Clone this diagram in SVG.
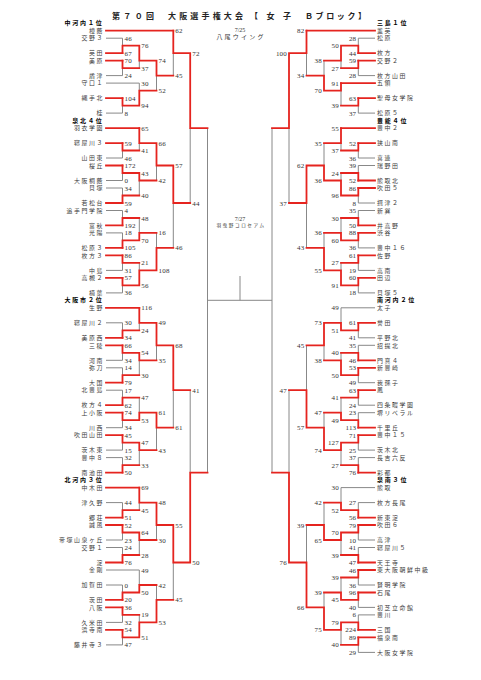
<svg xmlns="http://www.w3.org/2000/svg" width="481" height="680" viewBox="0 0 481 680">
<style>
.bg{fill:#fff}
.t{font-family:"Noto Sans CJK JP",sans-serif;font-weight:bold;font-size:8px;fill:#222}
.n{font-family:"Noto Sans CJK JP",sans-serif;font-size:5.9px;fill:#3a3a3a;letter-spacing:1.6px}
.nl{text-anchor:end}
.h{font-family:"Noto Sans CJK JP",sans-serif;font-weight:bold;font-size:6px;fill:#000;letter-spacing:1.8px}
.s{font-family:"Liberation Serif",serif;font-size:7px;fill:#333;letter-spacing:0.2px}
.sr{text-anchor:end}
.d{font-family:"Liberation Serif","Noto Sans CJK JP",serif;font-size:6px;fill:#333;text-anchor:middle}
.g{stroke:#888;stroke-width:1;fill:none}
.r{stroke:#e5241f;stroke-width:1.8;fill:none;stroke-linecap:square}
</style>
<rect class="bg" x="0" y="0" width="481" height="680"/>
<g id="title">
<text class="t" x="112" y="18.5" textLength="42" lengthAdjust="spacing">第７０回</text>
<text class="t" x="168" y="18.5" textLength="75" lengthAdjust="spacing">大阪選手権大会</text>
<text class="t" x="250" y="18.5" textLength="41" lengthAdjust="spacing">【女子</text>
<text class="t" x="305" y="18.5" textLength="61" lengthAdjust="spacing">Ｂブロック】</text>
</g>
<g id="venues">
<text class="d" x="240" y="31.5">7/25</text>
<text class="d" x="241" y="39" style="letter-spacing:2.2px">八尾ウイング</text>
<text class="d" x="240" y="220.5">7/27</text>
<text class="d" x="241" y="227" style="font-size:4.6px;letter-spacing:1.6px">羽曳野コロセアム</text>
</g>
<g id="connectors">
<path class="g" d="M106 38.2H122.5M106 75.6H122.5M106 83.1H139.3M106 113.1H122.5M106 158H122.5M106 180.5H122.5M106 188H122.5M106 210.5H122.5M106 232.9H122.5M106 270.4H122.5M106 292.9H122.5M106 322.8H122.5M106 360.3H122.5M106 367.8H122.5M106 390.2H122.5M106 427.7H122.5M106 450.1H122.5M106 457.6H122.5M106 502.6H122.5M106 540H122.5M106 547.5H122.5M106 570H139.3M106 585H122.5M106 622.4H122.5M106 644.9H122.5"/>
<path class="g" d="M122.5 38.2V45.7M122.5 68.2V75.6M139.3 60.7V68.2M122.5 105.6V113.1M139.3 83.1V90.6M156.5 75.6V90.6M173.3 53.2V75.6M122.5 150.5V158M139.3 143.1V150.5M122.5 173V180.5M122.5 188V195.5M139.3 180.5V195.5M156.5 165.5V180.5M122.5 210.5V218M122.5 232.9V240.4M139.3 218V232.9M122.5 262.9V270.4M122.5 285.4V292.9M139.3 262.9V270.4M156.5 232.9V247.9M173.3 203V247.9M190.2 128.1V203M122.5 322.8V330.3M139.3 322.8V330.3M122.5 352.8V360.3M122.5 367.8V375.2M139.3 360.3V375.2M156.5 345.3V360.3M122.5 390.2V397.7M122.5 420.2V427.7M139.3 397.7V412.7M122.5 442.7V450.1M122.5 457.6V465.1M139.3 450.1V465.1M156.5 427.7V450.1M173.3 390.2V427.7M122.5 502.6V510.1M139.3 502.6V510.1M122.5 532.5V540M122.5 547.5V555M139.3 540V555M156.5 525V540M122.5 585V592.5M139.3 570V585M122.5 614.9V622.4M122.5 637.4V644.9M139.3 614.9V622.4M156.5 585V599.9M173.3 562.5V599.9M190.2 390.2V472.6M207.5 128.1V472.6M207.5 300.3H272M240 276V300.3"/>
<path class="g" d="M375 38.2H358.3M375 75.6H358.3M375 113.1H358.3M375 158H358.3M375 165.5H358.3M375 203H358.3M375 210.5H358.3M375 247.9H358.3M375 270.4H358.3M375 292.9H358.3M375 307.8H341M375 337.8H358.3M375 345.3H358.3M375 382.7H358.3M375 405.2H358.3M375 412.7H358.3M375 450.1H358.3M375 457.6H358.3M375 487.6H341M375 502.6H358.3M375 540H358.3M375 547.5H358.3M375 585H358.3M375 607.4H358.3M375 614.9H358.3M375 652.4H358.3"/>
<path class="g" d="M358.3 38.2V45.7M358.3 68.2V75.6M341 60.7V68.2M358.3 105.6V113.1M341 90.6V105.6M324 60.7V75.6M306.5 53.2V75.6M358.3 150.5V158M341 143.1V150.5M358.3 165.5V173M358.3 195.5V203M341 173V180.5M324 143.1V165.5M358.3 210.5V218M358.3 240.4V247.9M341 218V232.9M358.3 262.9V270.4M358.3 285.4V292.9M341 262.9V270.4M324 232.9V247.9M306.5 203V247.9M289 128.1V203M358.3 330.3V337.8M341 307.8V322.8M358.3 345.3V352.8M358.3 375.2V382.7M341 352.8V360.3M324 345.3V360.3M358.3 397.7V405.2M358.3 412.7V420.2M341 397.7V412.7M358.3 442.7V450.1M358.3 457.6V465.1M341 450.1V465.1M324 412.7V427.7M306.5 345.3V390.2M358.3 502.6V510.1M341 487.6V502.6M358.3 532.5V540M358.3 547.5V555M341 540V555M324 502.6V525M358.3 577.5V585M358.3 599.9V607.4M341 577.5V592.5M358.3 614.9V622.4M358.3 644.9V652.4M341 629.9V644.9M324 592.5V607.4M306.5 525V562.5M289 390.2V472.6M272 128.1V472.6"/>
<path class="r" d="M106 30.7H173.3M106 53.2H122.5M106 60.7H122.5M106 98.1H122.5M106 128.1H139.3M106 143.1H122.5M106 165.5H122.5M106 203H122.5M106 225.4H122.5M106 247.9H122.5M106 255.4H122.5M106 277.9H122.5M106 307.8H139.3M106 337.8H122.5M106 345.3H122.5M106 382.7H122.5M106 405.2H122.5M106 412.7H122.5M106 435.2H122.5M106 472.6H122.5M106 487.6H139.3M106 517.6H122.5M106 525H122.5M106 562.5H122.5M106 599.9H122.5M106 607.4H122.5M106 629.9H122.5"/>
<path class="r" d="M122.5 53.2V45.7H139.3M122.5 60.7V68.2H139.3M139.3 45.7V60.7H156.5M122.5 98.1V105.6H139.3M139.3 105.6V90.6H156.5M156.5 60.7V75.6H173.3M173.3 30.7V53.2H190.2M122.5 143.1V150.5H139.3M139.3 128.1V143.1H156.5M122.5 165.5V173H139.3M122.5 203V195.5H139.3M139.3 173V180.5H156.5M156.5 143.1V165.5H173.3M122.5 225.4V218H139.3M122.5 247.9V240.4H139.3M139.3 240.4V232.9H156.5M122.5 255.4V262.9H139.3M122.5 277.9V285.4H139.3M139.3 285.4V270.4H156.5M156.5 270.4V247.9H173.3M173.3 165.5V203H190.2M190.2 53.2V128.1H207.5M122.5 337.8V330.3H139.3M139.3 307.8V322.8H156.5M122.5 345.3V352.8H139.3M122.5 382.7V375.2H139.3M139.3 352.8V360.3H156.5M156.5 322.8V345.3H173.3M122.5 405.2V397.7H139.3M122.5 412.7V420.2H139.3M139.3 420.2V412.7H156.5M122.5 435.2V442.7H139.3M122.5 472.6V465.1H139.3M139.3 442.7V450.1H156.5M156.5 412.7V427.7H173.3M173.3 345.3V390.2H190.2M122.5 517.6V510.1H139.3M139.3 487.6V502.6H156.5M122.5 525V532.5H139.3M122.5 562.5V555H139.3M139.3 532.5V540H156.5M156.5 502.6V525H173.3M122.5 599.9V592.5H139.3M139.3 592.5V585H156.5M122.5 607.4V614.9H139.3M122.5 629.9V637.4H139.3M139.3 637.4V622.4H156.5M156.5 622.4V599.9H173.3M173.3 525V562.5H190.2M190.2 562.5V472.6H207.5"/>
<path class="r" d="M375 30.7H306.5M375 53.2H358.3M375 60.7H358.3M375 83.1H341M375 98.1H358.3M375 128.1H341M375 143.1H358.3M375 180.5H358.3M375 188H358.3M375 225.4H358.3M375 232.9H358.3M375 255.4H358.3M375 277.9H358.3M375 322.8H358.3M375 360.3H358.3M375 367.8H358.3M375 390.2H358.3M375 427.7H358.3M375 435.2H358.3M375 472.6H358.3M375 517.6H358.3M375 525H358.3M375 562.5H358.3M375 570H358.3M375 592.5H358.3M375 629.9H358.3M375 637.4H358.3"/>
<path class="r" d="M358.3 53.2V45.7H341M358.3 60.7V68.2H341M341 45.7V60.7H324M358.3 98.1V105.6H341M341 83.1V90.6H324M324 90.6V75.6H306.5M306.5 30.7V53.2H289M358.3 143.1V150.5H341M341 128.1V143.1H324M358.3 180.5V173H341M358.3 188V195.5H341M341 195.5V180.5H324M324 180.5V165.5H306.5M358.3 225.4V218H341M358.3 232.9V240.4H341M341 240.4V232.9H324M358.3 255.4V262.9H341M358.3 277.9V285.4H341M341 285.4V270.4H324M324 270.4V247.9H306.5M306.5 165.5V203H289M289 53.2V128.1H272M358.3 322.8V330.3H341M341 330.3V322.8H324M358.3 360.3V352.8H341M358.3 367.8V375.2H341M341 375.2V360.3H324M324 322.8V345.3H306.5M358.3 390.2V397.7H341M358.3 427.7V420.2H341M341 420.2V412.7H324M358.3 435.2V442.7H341M358.3 472.6V465.1H341M341 442.7V450.1H324M324 450.1V427.7H306.5M306.5 427.7V390.2H289M358.3 517.6V510.1H341M341 510.1V502.6H324M358.3 525V532.5H341M358.3 562.5V555H341M341 532.5V540H324M324 540V525H306.5M358.3 570V577.5H341M358.3 592.5V599.9H341M341 599.9V592.5H324M358.3 629.9V622.4H341M358.3 637.4V644.9H341M341 622.4V629.9H324M324 629.9V607.4H306.5M306.5 607.4V562.5H289M289 562.5V472.6H272"/>
</g>
<g id="scores-left" class="s">
<text x="124.5" y="40.7">46</text><text x="124.5" y="55.7">67</text><text x="124.5" y="63.2">70</text><text x="124.5" y="78.1">24</text><text x="124.5" y="100.6">104</text><text x="124.5" y="115.6">8</text>
<text x="124.5" y="145.6">59</text><text x="124.5" y="160.5">46</text><text x="124.5" y="168">172</text><text x="124.5" y="183">0</text><text x="124.5" y="190.5">34</text><text x="124.5" y="205.5">59</text><text x="124.5" y="213">4</text><text x="124.5" y="227.9">192</text><text x="124.5" y="235.4">18</text><text x="124.5" y="250.4">105</text><text x="124.5" y="257.9">86</text><text x="124.5" y="272.9">31</text><text x="124.5" y="280.4">57</text><text x="124.5" y="295.4">36</text>
<text x="124.5" y="325.3">30</text><text x="124.5" y="340.3">34</text><text x="124.5" y="347.8">66</text><text x="124.5" y="362.8">34</text><text x="124.5" y="370.3">14</text><text x="124.5" y="385.2">79</text><text x="124.5" y="392.7">17</text><text x="124.5" y="407.7">62</text><text x="124.5" y="415.2">74</text><text x="124.5" y="430.2">34</text><text x="124.5" y="437.7">45</text><text x="124.5" y="452.6">15</text><text x="124.5" y="460.1">32</text><text x="124.5" y="475.1">50</text>
<text x="124.5" y="505.1">44</text><text x="124.5" y="520.1">51</text><text x="124.5" y="527.5">52</text><text x="124.5" y="542.5">23</text><text x="124.5" y="550">24</text><text x="124.5" y="565">76</text><text x="124.5" y="587.5">0</text><text x="124.5" y="602.4">20</text><text x="124.5" y="609.9">36</text><text x="124.5" y="624.9">32</text><text x="124.5" y="632.4">54</text><text x="124.5" y="647.4">47</text>
<text x="141.3" y="48.2">76</text><text x="141.3" y="70.7">37</text><text x="141.3" y="85.6">30</text><text x="141.3" y="108.1">94</text>
<text x="141.3" y="130.6">65</text><text x="141.3" y="153">41</text><text x="141.3" y="175.5">43</text><text x="141.3" y="198">40</text><text x="141.3" y="220.5">48</text><text x="141.3" y="242.9">70</text><text x="141.3" y="265.4">21</text><text x="141.3" y="287.9">56</text>
<text x="141.3" y="310.3">116</text><text x="141.3" y="332.8">24</text><text x="141.3" y="355.3">54</text><text x="141.3" y="377.7">30</text><text x="141.3" y="400.2">47</text><text x="141.3" y="422.7">53</text><text x="141.3" y="445.2">47</text><text x="141.3" y="467.6">33</text>
<text x="141.3" y="490.1">69</text><text x="141.3" y="512.6">45</text><text x="141.3" y="535">64</text><text x="141.3" y="557.5">28</text><text x="141.3" y="572.5">49</text><text x="141.3" y="595">50</text><text x="141.3" y="617.4">19</text><text x="141.3" y="639.9">51</text>
<text x="158.5" y="63.2">74</text><text x="158.5" y="93.1">52</text><text x="158.5" y="145.6">66</text><text x="158.5" y="183">42</text><text x="158.5" y="235.4">16</text><text x="158.5" y="272.9">108</text><text x="158.5" y="325.3">49</text><text x="158.5" y="362.8">35</text><text x="158.5" y="415.2">61</text><text x="158.5" y="452.6">43</text><text x="158.5" y="505.1">48</text><text x="158.5" y="542.5">30</text><text x="158.5" y="587.5">42</text><text x="158.5" y="624.9">53</text>
<text x="175.3" y="33.2">62</text><text x="175.3" y="78.1">45</text><text x="175.3" y="168">57</text><text x="175.3" y="250.4">46</text><text x="175.3" y="347.8">68</text><text x="175.3" y="430.2">61</text><text x="175.3" y="527.5">55</text><text x="175.3" y="602.4">45</text>
<text x="192.2" y="55.7">72</text><text x="192.2" y="205.5">44</text><text x="192.2" y="392.7">41</text><text x="192.2" y="565">50</text>
</g>
<g id="scores-right" class="s sr">
<text x="356.3" y="40.7">28</text><text x="356.3" y="55.7">44</text><text x="356.3" y="63.2">59</text><text x="356.3" y="78.1">28</text><text x="356.3" y="100.6">63</text><text x="356.3" y="115.6">37</text>
<text x="356.3" y="145.6">52</text><text x="356.3" y="160.5">36</text><text x="356.3" y="168">39</text><text x="356.3" y="183">52</text><text x="356.3" y="190.5">86</text><text x="356.3" y="205.5">8</text><text x="356.3" y="213">35</text><text x="356.3" y="227.9">50</text><text x="356.3" y="235.4">88</text><text x="356.3" y="250.4">36</text><text x="356.3" y="257.9">61</text><text x="356.3" y="272.9">19</text><text x="356.3" y="280.4">60</text><text x="356.3" y="295.4">18</text>
<text x="356.3" y="325.3">61</text><text x="356.3" y="340.3">41</text><text x="356.3" y="347.8">35</text><text x="356.3" y="362.8">46</text><text x="356.3" y="370.3">53</text><text x="356.3" y="385.2">49</text><text x="356.3" y="392.7">63</text><text x="356.3" y="407.7">24</text><text x="356.3" y="415.2">23</text><text x="356.3" y="430.2">113</text><text x="356.3" y="437.7">71</text><text x="356.3" y="452.6">25</text><text x="356.3" y="460.1">37</text><text x="356.3" y="475.1">76</text>
<text x="356.3" y="505.1">27</text><text x="356.3" y="520.1">56</text><text x="356.3" y="527.5">79</text><text x="356.3" y="542.5">10</text><text x="356.3" y="550">41</text><text x="356.3" y="565">47</text><text x="356.3" y="572.5">46</text><text x="356.3" y="587.5">36</text><text x="356.3" y="595">96</text><text x="356.3" y="609.9">40</text><text x="356.3" y="617.4">6</text><text x="356.3" y="632.4">224</text><text x="356.3" y="639.9">89</text><text x="356.3" y="654.9">29</text>
<text x="339" y="48.2">50</text><text x="339" y="70.7">27</text><text x="339" y="85.6">91</text><text x="339" y="108.1">39</text>
<text x="339" y="130.6">55</text><text x="339" y="153">37</text><text x="339" y="175.5">24</text><text x="339" y="198">96</text><text x="339" y="220.5">30</text><text x="339" y="242.9">60</text><text x="339" y="265.4">27</text><text x="339" y="287.9">91</text>
<text x="339" y="310.3">49</text><text x="339" y="332.8">51</text><text x="339" y="355.3">40</text><text x="339" y="377.7">50</text><text x="339" y="400.2">41</text><text x="339" y="422.7">49</text><text x="339" y="445.2">127</text><text x="339" y="467.6">27</text>
<text x="339" y="490.1">30</text><text x="339" y="512.6">52</text><text x="339" y="535">70</text><text x="339" y="557.5">39</text><text x="339" y="580">39</text><text x="339" y="602.4">45</text><text x="339" y="624.9">79</text><text x="339" y="647.4">40</text>
<text x="322" y="63.2">38</text><text x="322" y="93.1">70</text><text x="322" y="145.6">35</text><text x="322" y="183">36</text><text x="322" y="235.4">36</text><text x="322" y="272.9">55</text><text x="322" y="325.3">73</text><text x="322" y="362.8">38</text><text x="322" y="415.2">47</text><text x="322" y="452.6">74</text><text x="322" y="505.1">42</text><text x="322" y="542.5">65</text><text x="322" y="595">39</text><text x="322" y="632.4">75</text>
<text x="304.5" y="33.2">82</text><text x="304.5" y="78.1">34</text><text x="304.5" y="168">62</text><text x="304.5" y="250.4">43</text><text x="304.5" y="347.8">45</text><text x="304.5" y="430.2">57</text><text x="304.5" y="527.5">39</text><text x="304.5" y="609.9">66</text>
<text x="287" y="55.7">100</text><text x="287" y="205.5">37</text><text x="287" y="392.7">47</text><text x="287" y="565">76</text>
</g>
<g id="headers">
<text class="h nl" x="103.5" y="25.3">中河内１位</text>
<text class="h nl" x="103.5" y="122.7">泉北４位</text>
<text class="h nl" x="103.5" y="302.4">大阪市２位</text>
<text class="h nl" x="103.5" y="482.2">北河内３位</text>
<text class="h" x="377" y="25.3">三島１位</text>
<text class="h" x="377" y="122.7">豊能４位</text>
<text class="h" x="377" y="302.4">南河内２位</text>
<text class="h" x="377" y="482.2">泉南３位</text>
</g>
<g id="teams-left" class="n nl">
<g id="L00"><text x="104" y="32.9">樟蔭</text></g>
<g id="L01"><text x="104" y="40.4">交野３</text></g>
<g id="L03"><text x="104" y="55.4">英田</text></g>
<g id="L04"><text x="104" y="62.9">美原</text></g>
<g id="L06"><text x="104" y="77.8">盾津</text></g>
<g id="L07"><text x="104" y="85.3">守口１</text></g>
<g id="L09"><text x="104" y="100.3">縄手北</text></g>
<g id="L11"><text x="104" y="115.3">桂</text></g>
<g id="L13"><text x="104" y="130.3">羽衣学園</text></g>
<g id="L15"><text x="104" y="145.3">寝屋川３</text></g>
<g id="L17"><text x="104" y="160.2">山田東</text></g>
<g id="L18"><text x="104" y="167.7">桜丘</text></g>
<g id="L20"><text x="104" y="182.7">大阪桐蔭</text></g>
<g id="L21"><text x="104" y="190.2">貝塚</text></g>
<g id="L23"><text x="104" y="205.2">若松台</text></g>
<g id="L24"><text x="104" y="212.7">追手門学院</text></g>
<g id="L26"><text x="104" y="227.6">富秋</text></g>
<g id="L27"><text x="104" y="235.1">光陽</text></g>
<g id="L29"><text x="104" y="250.1">松原３</text></g>
<g id="L30"><text x="104" y="257.6">枚方３</text></g>
<g id="L32"><text x="104" y="272.6">中島</text></g>
<g id="L33"><text x="104" y="280.1">高槻２</text></g>
<g id="L35"><text x="104" y="295.1">楠葉</text></g>
<g id="L37"><text x="104" y="310">生野</text></g>
<g id="L39"><text x="104" y="325">寝屋川２</text></g>
<g id="L41"><text x="104" y="340">美原西</text></g>
<g id="L42"><text x="104" y="347.5">三稜</text></g>
<g id="L44"><text x="104" y="362.5">河南</text></g>
<g id="L45"><text x="104" y="370">弥刀</text></g>
<g id="L47"><text x="104" y="384.9">大国</text></g>
<g id="L48"><text x="104" y="392.4">北豊島</text></g>
<g id="L50"><text x="104" y="407.4">枚方４</text></g>
<g id="L51"><text x="104" y="414.9">上小阪</text></g>
<g id="L53"><text x="104" y="429.9">川西</text></g>
<g id="L54"><text x="104" y="437.4">吹田山田</text></g>
<g id="L56"><text x="104" y="452.3">茨木東</text></g>
<g id="L57"><text x="104" y="459.8">豊中８</text></g>
<g id="L59"><text x="104" y="474.8">南池田</text></g>
<g id="L61"><text x="104" y="489.8">中木田</text></g>
<g id="L63"><text x="104" y="504.8">津久野</text></g>
<g id="L65"><text x="104" y="519.8">郷荘</text></g>
<g id="L66"><text x="104" y="527.2">誠風</text></g>
<g id="L68"><text x="104" y="542.2">帝塚山泉ヶ丘</text></g>
<g id="L69"><text x="104" y="549.7">交野１</text></g>
<g id="L71"><text x="104" y="564.7">淀</text></g>
<g id="L72"><text x="104" y="572.2">金剛</text></g>
<g id="L74"><text x="104" y="587.2">加賀田</text></g>
<g id="L76"><text x="104" y="602.1">茨田</text></g>
<g id="L77"><text x="104" y="609.6">八阪</text></g>
<g id="L79"><text x="104" y="624.6">久米田</text></g>
<g id="L80"><text x="104" y="632.1">浜寺南</text></g>
<g id="L82"><text x="104" y="647.1">藤井寺３</text></g>
</g>
<g id="teams-right" class="n">
<g id="R00"><text x="377" y="32.9">薫英</text></g>
<g id="R01"><text x="377" y="40.4">松原</text></g>
<g id="R03"><text x="377" y="55.4">枚方</text></g>
<g id="R04"><text x="377" y="62.9">交野２</text></g>
<g id="R06"><text x="377" y="77.8">枚方山田</text></g>
<g id="R07"><text x="377" y="85.3">五領</text></g>
<g id="R09"><text x="377" y="100.3">聖母女学院</text></g>
<g id="R11"><text x="377" y="115.3">松原５</text></g>
<g id="R13"><text x="377" y="130.3">豊中２</text></g>
<g id="R15"><text x="377" y="145.3">狭山南</text></g>
<g id="R17"><text x="377" y="160.2">喜連</text></g>
<g id="R18"><text x="377" y="167.7">瑞野田</text></g>
<g id="R20"><text x="377" y="182.7">熊取北</text></g>
<g id="R21"><text x="377" y="190.2">吹田５</text></g>
<g id="R23"><text x="377" y="205.2">摂津２</text></g>
<g id="R24"><text x="377" y="212.7">新巽</text></g>
<g id="R26"><text x="377" y="227.6">井高野</text></g>
<g id="R27"><text x="377" y="235.1">渋谷</text></g>
<g id="R29"><text x="377" y="250.1">豊中１６</text></g>
<g id="R30"><text x="377" y="257.6">佐野</text></g>
<g id="R32"><text x="377" y="272.6">高南</text></g>
<g id="R33"><text x="377" y="280.1">田辺</text></g>
<g id="R35"><text x="377" y="295.1">貝塚５</text></g>
<g id="R37"><text x="377" y="310">太子</text></g>
<g id="R39"><text x="377" y="325">誉田</text></g>
<g id="R41"><text x="377" y="340">平野北</text></g>
<g id="R42"><text x="377" y="347.5">招提北</text></g>
<g id="R44"><text x="377" y="362.5">門真４</text></g>
<g id="R45"><text x="377" y="370">新豊崎</text></g>
<g id="R47"><text x="377" y="384.9">我孫子</text></g>
<g id="R48"><text x="377" y="392.4">鳳</text></g>
<g id="R50"><text x="377" y="407.4">四条畷学園</text></g>
<g id="R51"><text x="377" y="414.9">堺リベラル</text></g>
<g id="R53"><text x="377" y="429.9">千里丘</text></g>
<g id="R54"><text x="377" y="437.4">豊中１５</text></g>
<g id="R56"><text x="377" y="452.3">茨木北</text></g>
<g id="R57"><text x="377" y="459.8">長吉六反</text></g>
<g id="R59"><text x="377" y="474.8">彩都</text></g>
<g id="R61"><text x="377" y="489.8">熊取</text></g>
<g id="R63"><text x="377" y="504.8">枚方長尾</text></g>
<g id="R65"><text x="377" y="519.8">新東淀</text></g>
<g id="R66"><text x="377" y="527.2">吹田６</text></g>
<g id="R68"><text x="377" y="542.2">高津</text></g>
<g id="R69"><text x="377" y="549.7">寝屋川５</text></g>
<g id="R71"><text x="377" y="564.7">天王寺</text></g>
<g id="R72"><text x="377" y="572.2">東大阪朝鮮中級</text></g>
<g id="R74"><text x="377" y="587.2">賢明学院</text></g>
<g id="R75"><text x="377" y="594.7">石尾</text></g>
<g id="R77"><text x="377" y="609.6">初芝立命館</text></g>
<g id="R78"><text x="377" y="617.1">豊川</text></g>
<g id="R80"><text x="377" y="632.1">三国</text></g>
<g id="R81"><text x="377" y="639.6">福泉南</text></g>
<g id="R83"><text x="377" y="654.6">大阪女学院</text></g>
</g>
</svg>
